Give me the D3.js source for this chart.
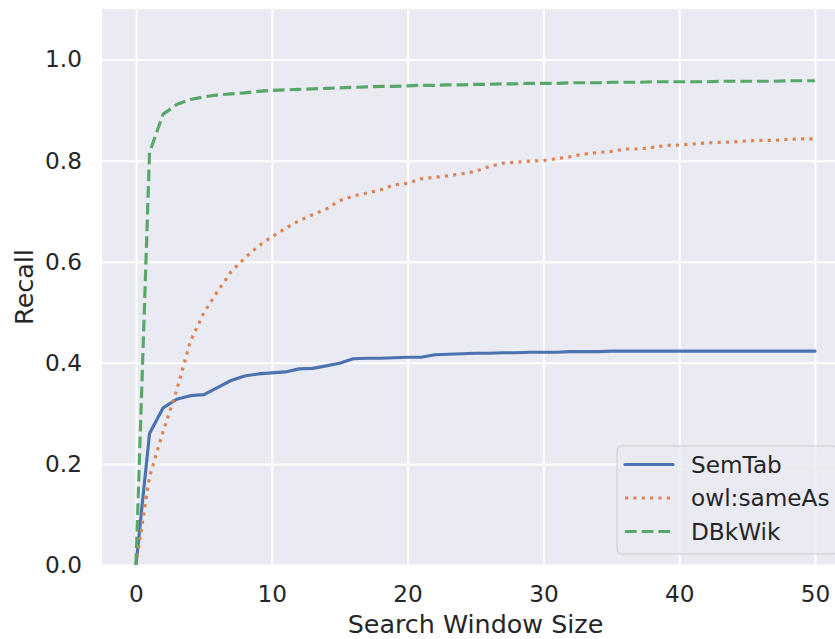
<!DOCTYPE html>
<html>
<head>
<meta charset="utf-8">
<script src="https://cdn.jsdelivr.net/npm/d3@7"></script>
<style>
  html, body { margin: 0; padding: 0; background: #ffffff; }
  svg { display: block; font-family: "DejaVu Sans", sans-serif; }
</style>
</head>
<body>
<svg id="chart" width="835" height="639"></svg>
<script>
// Search window sizes (x values)
const windowSizes = [0, 1, 2, 3, 4, 5, 6, 7, 8, 9, 10, 11, 12, 13, 14, 15, 16, 17, 18, 19, 20,
  21, 22, 23, 24, 25, 26, 27, 28, 29, 30, 31, 32, 33, 34, 35, 36, 37, 38, 39, 40,
  41, 42, 43, 44, 45, 46, 47, 48, 49, 50];

// Recall per window size, one array per dataset
const semTab = [0, 0.260, 0.311, 0.328, 0.335, 0.337, 0.351, 0.365, 0.374, 0.378, 0.380,
  0.382, 0.388, 0.389, 0.394, 0.399, 0.408, 0.409, 0.409, 0.410, 0.411,
  0.411, 0.416, 0.417, 0.418, 0.419, 0.419, 0.420, 0.420, 0.421, 0.421,
  0.421, 0.422, 0.422, 0.422, 0.423, 0.423, 0.423, 0.423, 0.423, 0.423,
  0.423, 0.423, 0.423, 0.423, 0.423, 0.423, 0.423, 0.423, 0.423, 0.423];

const owlSameAs = [0, 0.175, 0.264, 0.346, 0.442, 0.499, 0.541, 0.580, 0.607, 0.631, 0.649,
  0.666, 0.681, 0.693, 0.704, 0.721, 0.730, 0.736, 0.742, 0.752, 0.755,
  0.764, 0.767, 0.770, 0.774, 0.779, 0.788, 0.795, 0.797, 0.799, 0.800,
  0.804, 0.808, 0.813, 0.816, 0.818, 0.823, 0.823, 0.826, 0.830, 0.831,
  0.833, 0.835, 0.836, 0.837, 0.839, 0.840, 0.840, 0.842, 0.843, 0.843];

const dbkWik = [0, 0.816, 0.892, 0.911, 0.921, 0.926, 0.930, 0.932, 0.934, 0.937, 0.939,
  0.940, 0.941, 0.942, 0.943, 0.944, 0.945, 0.946, 0.947, 0.947, 0.948,
  0.949, 0.949, 0.950, 0.950, 0.951, 0.951, 0.952, 0.952, 0.953, 0.953,
  0.953, 0.954, 0.954, 0.954, 0.955, 0.955, 0.955, 0.956, 0.956, 0.956,
  0.956, 0.956, 0.957, 0.957, 0.957, 0.957, 0.957, 0.958, 0.958, 0.958];

const seriesNames = ["SemTab", "owl:sameAs", "DBkWik"];
const xTicks = [0, 10, 20, 30, 40, 50];
const yTicks = [0.0, 0.2, 0.4, 0.6, 0.8, 1.0];

const series = [
  { name: seriesNames[0], values: semTab, color: "#4c72b0", dash: null },
  { name: seriesNames[1], values: owlSameAs, color: "#dd8452", dash: "3.15,5.2" },
  { name: seriesNames[2], values: dbkWik, color: "#55a868", dash: "11.65,5.05" }
];

const svg = d3.select("#chart");
const plot = { left: 102, top: 9, right: 849, bottom: 565 };
const textColor = "#262626";
const tickFont = 23.2;
const labelFont = 25.4;

const x = d3.scaleLinear().domain([-2.5, 52.5]).range([plot.left, plot.right]);
const y = d3.scaleLinear().domain([0, 1.1]).range([plot.bottom, plot.top]);

// Axes background
svg.append("rect")
  .attr("x", plot.left).attr("y", plot.top)
  .attr("width", plot.right - plot.left).attr("height", plot.bottom - plot.top)
  .attr("fill", "#eaeaf2");

// Grid lines via axes with full-length ticks
const xGrid = d3.axisBottom(x).tickValues(xTicks).tickSize(-(plot.bottom - plot.top)).tickFormat("");
svg.append("g").attr("transform", `translate(0,${plot.bottom})`).call(xGrid)
  .call(g => g.select(".domain").remove())
  .call(g => g.selectAll("line").attr("stroke", "#ffffff").attr("stroke-width", 2));

const yGrid = d3.axisLeft(y).tickValues(yTicks).tickSize(-(plot.right - plot.left)).tickFormat("");
svg.append("g").attr("transform", `translate(${plot.left},0)`).call(yGrid)
  .call(g => g.select(".domain").remove())
  .call(g => g.selectAll("line").attr("stroke", "#ffffff").attr("stroke-width", 2));

// Tick labels
const xAxis = d3.axisBottom(x).tickValues(xTicks).tickSize(0).tickPadding(21).tickFormat(d3.format("d"));
svg.append("g").attr("transform", `translate(0,${plot.bottom})`).call(xAxis)
  .call(g => g.select(".domain").remove())
  .call(g => g.selectAll("text").attr("fill", textColor).attr("font-size", tickFont)
    .attr("font-family", "DejaVu Sans"));

const yAxis = d3.axisLeft(y).tickValues(yTicks).tickSize(0).tickPadding(20).tickFormat(d3.format(".1f"));
svg.append("g").attr("transform", `translate(${plot.left},0)`).call(yAxis)
  .call(g => g.select(".domain").remove())
  .call(g => g.selectAll("text").attr("fill", textColor).attr("font-size", tickFont)
    .attr("font-family", "DejaVu Sans"));

// Axis titles
svg.append("text")
  .attr("x", (plot.left + plot.right) / 2).attr("y", 633)
  .attr("text-anchor", "middle").attr("fill", textColor)
  .attr("font-size", labelFont).text("Search Window Size");

svg.append("text")
  .attr("transform", `translate(33,${(plot.top + plot.bottom) / 2}) rotate(-90)`)
  .attr("text-anchor", "middle").attr("fill", textColor)
  .attr("font-size", labelFont).text("Recall");

// Lines
svg.append("clipPath").attr("id", "plot-clip")
  .append("rect").attr("x", plot.left).attr("y", plot.top)
  .attr("width", plot.right - plot.left).attr("height", plot.bottom - plot.top);

const line = d3.line()
  .x((d, i) => x(windowSizes[i]))
  .y(d => y(d));

const linesG = svg.append("g").attr("clip-path", "url(#plot-clip)");
series.forEach(s => {
  linesG.append("path")
    .datum(s.values)
    .attr("d", line)
    .attr("fill", "none")
    .attr("stroke", s.color)
    .attr("stroke-width", 3.15)
    .attr("stroke-linejoin", "round")
    .attr("stroke-linecap", s.dash ? "butt" : "round")
    .attr("stroke-dasharray", s.dash);
});

// Legend
const legend = svg.append("g");
legend.append("rect")
  .attr("x", 617).attr("y", 446).attr("width", 221).attr("height", 108)
  .attr("rx", 4).attr("ry", 4)
  .attr("fill", "#eaeaf2").attr("fill-opacity", 0.8)
  .attr("stroke", "#cccccc").attr("stroke-width", 1);

const rowY = [464.5, 498, 531.5];
series.forEach((s, i) => {
  legend.append("line")
    .attr("x1", 625).attr("x2", 673)
    .attr("y1", rowY[i]).attr("y2", rowY[i])
    .attr("stroke", s.color).attr("stroke-width", 3.15)
    .attr("stroke-linecap", s.dash ? "butt" : "round")
    .attr("stroke-dasharray", s.dash);
  legend.append("text")
    .attr("x", 691).attr("y", rowY[i]).attr("dy", "0.36em")
    .attr("fill", textColor).attr("font-size", tickFont)
    .text(s.name);
});
</script>
</body>
</html>
